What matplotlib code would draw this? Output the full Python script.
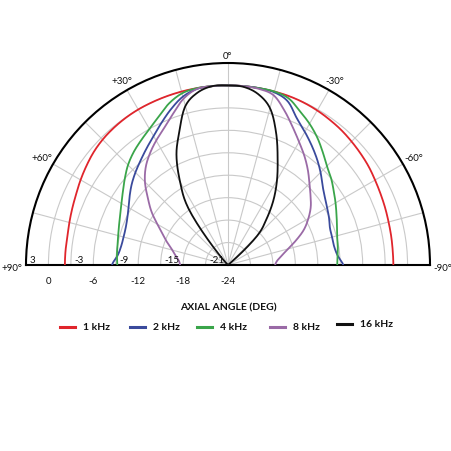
import numpy as np
import matplotlib
matplotlib.use("Agg")
import matplotlib.pyplot as plt
from matplotlib.lines import Line2D

# ---------------- data ----------------
angles_deg = list(range(90, -91, -5))  # +90 (left) ... -90 (right)

resp_1k = [-2.2, -2.2, -2.2, -2.05, -1.85, -1.6, -1.25, -0.9, -0.55, -0.3, -0.15, -0.05, 0, 0, 0, 0, 0, 0, 0,
           0, 0, 0, 0, -0.05, -0.15, -0.3, -0.45, -0.65, -0.85, -1.05, -1.3, -1.5, -1.65, -1.78, -1.85, -1.9, -1.9]
resp_2k = [-8.5, -9.2, -9.5, -9.55, -9.45, -9.15, -8.65, -7.95, -7.2, -6.5, -5.8, -5.0, -4.1, -3.0, -1.8, -0.7, -0.1, 0, 0,
           0, 0, -0.1, -0.7, -2.3, -3.45, -4.5, -5.5, -6.5, -7.5, -8.2, -8.7, -9.1, -9.5, -9.6, -9.6, -9.3, -8.6]
resp_4k = [-9.2, -9.1, -9.0, -8.8, -8.5, -8.1, -7.55, -6.85, -6.0, -5.1, -4.35, -3.7, -3.0, -2.1, -1.0, -0.25, 0, 0, 0,
           0, 0, 0, -0.3, -1.3, -2.2, -3.2, -4.3, -5.3, -6.0, -6.75, -7.4, -8.0, -8.5, -8.9, -9.1, -9.3, -9.4]
resp_8k = [-17.6, -17.4, -16.9, -16.3, -15.4, -14.4, -13.1, -11.5, -10.0, -8.3, -6.9, -5.8, -4.8, -3.8, -2.5, -1.0, -0.1, 0, 0,
           0, -0.1, -0.5, -2.0, -3.6, -5.0, -6.2, -7.4, -8.6, -9.6, -10.5, -11.6, -12.8, -14.3, -15.7, -16.7, -17.4, -17.7]
resp_16k = [-24, -24, -24, -24, -24, -24, -24, -24, -24, -24, -21.7, -14.8, -11.2, -7.7, -5.0, -2.0, -0.6, 0, 0,
            -0.1, -0.8, -2.3, -5.2, -8.3, -10.9, -13.4, -16.0, -18.5, -24, -24, -24, -24, -24, -24, -24, -24, -24]

series_names = ["1 kHz", "2 kHz", "4 kHz", "8 kHz", "16 kHz"]
series_values = [resp_1k, resp_2k, resp_4k, resp_8k, resp_16k]
series_colors = ["#e0252c", "#3a4a9c", "#3aa54a", "#9a6aa6", "#111111"]

r_min, r_max = -24, 3
ring_values = [-21, -18, -15, -12, -9, -6, -3, 0]
upper_scale_labels = [3, -3, -9, -15, -21]
lower_scale_labels = [0, -6, -12, -18, -24]
angle_labels = {0: "0°", 30: "+30°", -30: "-30°", 60: "+60°", -60: "-60°"}
title = "AXIAL ANGLE (DEG)"

FONT = "Lato"


def catmull(x, y, n=12):
    x = np.asarray(x, float)
    y = np.asarray(y, float)
    xs, ys = [], []
    for i in range(len(x) - 1):
        p0 = y[i - 1] if i > 0 else y[i]
        p1, p2 = y[i], y[i + 1]
        p3 = y[i + 2] if i + 2 < len(y) else y[i + 1]
        t = np.linspace(0, 1, n, endpoint=False)
        yy = 0.5 * ((2 * p1) + (-p0 + p2) * t + (2 * p0 - 5 * p1 + 4 * p2 - p3) * t ** 2
                    + (-p0 + 3 * p1 - 3 * p2 + p3) * t ** 3)
        xs.append(x[i] + (x[i + 1] - x[i]) * t)
        ys.append(yy)
    xs.append([x[-1]])
    ys.append([y[-1]])
    return np.concatenate(xs), np.concatenate(ys)


W = 452
fig = plt.figure(figsize=(4.52, 4.52), dpi=100)
fig.patch.set_facecolor("white")

cx, cy, R = 228, 266, 202
# square box of side 2R: the half-disc is fitted across its width and centred vertically
mid = cy - R / 2
ax = fig.add_axes([(cx - R) / W, (W - (mid + R)) / W, 2 * R / W, 2 * R / W], projection="polar")
ax.set_theta_zero_location("N")
ax.set_thetamin(-90)
ax.set_thetamax(90)
ax.set_ylim(r_min, r_max)

ax.set_yticks(ring_values)
ax.set_yticklabels([])
ax.set_xticks(np.radians(np.arange(-90, 91, 15)))
ax.set_xticklabels([])
ax.grid(True, color="#c9c9c9", lw=0.8)
ax.tick_params(length=0)
for name in ("polar", "start", "end"):
    if name in ax.spines:
        ax.spines[name].set_color("black")
        ax.spines[name].set_linewidth(1.5)

for vals, col in zip(series_values, series_colors):
    th, rv = catmull(angles_deg, vals)
    rv = np.clip(rv, r_min, 0.05)
    ax.plot(np.radians(th), rv, color=col, lw=1.3, solid_capstyle="round", zorder=3)

for v in upper_scale_labels:
    ax.annotate(str(v), xy=(np.pi / 2, v), xytext=(2.5, 1.0), textcoords="offset points",
                ha="left", va="bottom", fontsize=7, family=FONT, color="#111111", zorder=5)
for v in lower_scale_labels:
    ax.annotate(str(v), xy=(np.pi / 2, v), xytext=(0, -8.0), textcoords="offset points",
                ha="center", va="top", fontsize=7, family=FONT, color="#111111")

for a, lab in angle_labels.items():
    rr = 3.94 if a == 0 else (4.47 if abs(a) == 30 else 4.74)
    ax.text(np.radians(a), rr, lab, ha="center", va="center", fontsize=7, family=FONT, color="#111111")
ax.annotate("+90°", xy=(np.pi / 2, 3), xytext=(-2.5, -2), textcoords="offset points",
            ha="right", va="center", fontsize=7, family=FONT, color="#111111")
ax.annotate("-90°", xy=(-np.pi / 2, 3), xytext=(2.5, -2), textcoords="offset points",
            ha="left", va="center", fontsize=7, family=FONT, color="#111111")

fig.text(cx / W, 1 - 308 / W, title, ha="center", va="center", fontsize=7.5,
         family=FONT, weight="bold", color="#111111")

leg_x = [60, 130, 197, 270, 337]
leg_y = 328
for x0, name, col in zip(leg_x, series_names, series_colors):
    yy = 1 - (leg_y - (3 if name == "16 kHz" else 0)) / W
    fig.add_artist(Line2D([x0 / W, (x0 + 15) / W], [yy, yy], transform=fig.transFigure,
                          color=col, lw=2.2))
    fig.text((x0 + 23) / W, yy, name, ha="left", va="center", fontsize=7.5,
             family=FONT, weight="bold", color="#111111")

fig.savefig("out.png", dpi=100, facecolor="white")
